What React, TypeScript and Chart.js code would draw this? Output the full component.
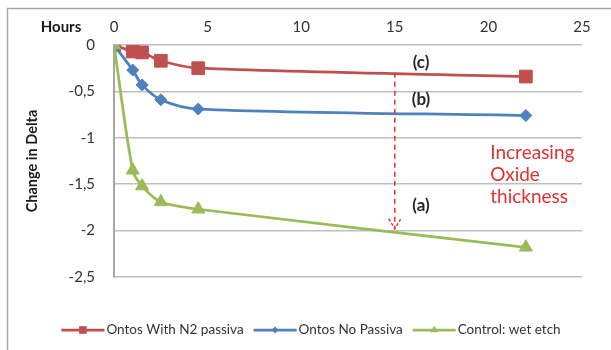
import React, { useEffect, useRef } from 'react';
import { Chart, registerables } from 'chart.js';

Chart.register(...registerables);

// ---- data ----
const hours = [0, 1, 1.5, 2.5, 4.5, 22];
const n2Passiva = [0, -0.07, -0.08, -0.17, -0.25, -0.34];
const noPassiva = [0, -0.27, -0.43, -0.59, -0.69, -0.76];
const wetEtch = [0, -1.35, -1.52, -1.69, -1.77, -2.18];
const seriesNames = ['Ontos With N2 passiva', 'Ontos No Passiva', 'Control: wet etch'];
const xTickValues = [0, 5, 10, 15, 20, 25];
const yTickValues = [0, -0.5, -1, -1.5, -2, -2.5];
const xAxisTitle = 'Hours';
const yAxisTitle = 'Change in Delta';
const curveTags = ['(c)', '(b)', '(a)'];
const curveTagX = [16.4, 16.4, 16.4];
const curveTagY = [-0.19, -0.59, -1.73];
const noteLines = ['Increasing', 'Oxide', 'thickness'];
const noteX = 20.1;
const noteY = [-1.16, -1.4, -1.64];
const arrowX = 15;
const arrowFromY = -0.3;
const arrowToY = -1.98;

const colors = ['#C0504D', '#4F81BD', '#9BBB59'];
const pointStyles = ['rect', 'rectRot', 'triangle'];
const pointRadii = [9, 6, 7.5];
const FONT = 'Lato, "Open Sans", sans-serif';

const fmt = (v: number) => String(v).replace('.', ',');

function drawMarker(ctx: CanvasRenderingContext2D, style: string, x: number, y: number, r: number, color: string) {
  ctx.save();
  ctx.fillStyle = color;
  ctx.beginPath();
  if (style === 'rect') {
    const s = r * Math.SQRT1_2;
    ctx.rect(x - s, y - s, 2 * s, 2 * s);
  } else if (style === 'rectRot') {
    ctx.moveTo(x, y - r);
    ctx.lineTo(x + r, y);
    ctx.lineTo(x, y + r);
    ctx.lineTo(x - r, y);
    ctx.closePath();
  } else {
    const h = r * 1.5;
    const w = r * Math.sqrt(3) / 2;
    ctx.moveTo(x, y - r);
    ctx.lineTo(x + w, y - r + h);
    ctx.lineTo(x - w, y - r + h);
    ctx.closePath();
  }
  ctx.fill();
  ctx.restore();
}

const decorPlugin = {
  id: 'decor',
  beforeDraw(chart: any) {
    const ctx = chart.ctx as CanvasRenderingContext2D;
    ctx.save();
    ctx.fillStyle = '#ffffff';
    ctx.fillRect(0, 0, chart.width, chart.height);
    ctx.strokeStyle = '#a6a6a6';
    ctx.lineWidth = 1.5;
    ctx.beginPath();
    ctx.moveTo(7.5, chart.height);
    ctx.lineTo(7.5, 8.5);
    ctx.lineTo(chart.width, 8.5);
    ctx.stroke();
    ctx.restore();
  },
  afterDraw(chart: any) {
    const ctx = chart.ctx as CanvasRenderingContext2D;
    const xs = chart.scales.x;
    const ys = chart.scales.y;
    ctx.save();
    // x axis title at left of the tick row
    ctx.fillStyle = '#1a1a1a';
    ctx.font = `bold 15px ${FONT}`;
    ctx.textAlign = 'center';
    ctx.textBaseline = 'middle';
    ctx.fillText(xAxisTitle, 61, 27);

    // dashed arrow
    const ax = xs.getPixelForValue(arrowX);
    const ay1 = ys.getPixelForValue(arrowFromY);
    const ay2 = ys.getPixelForValue(arrowToY);
    ctx.strokeStyle = '#e0312f';
    ctx.lineWidth = 1.5;
    ctx.setLineDash([5, 4]);
    ctx.beginPath();
    ctx.moveTo(ax, ay1);
    ctx.lineTo(ax, ay2);
    ctx.stroke();
    ctx.setLineDash([3, 2]);
    ctx.beginPath();
    ctx.moveTo(ax - 6, ay2 - 10);
    ctx.lineTo(ax, ay2);
    ctx.lineTo(ax + 6, ay2 - 10);
    ctx.stroke();
    ctx.setLineDash([]);

    // curve tags
    ctx.fillStyle = '#262626';
    ctx.font = `bold 17px ${FONT}`;
    ctx.textAlign = 'center';
    curveTags.forEach((t, i) => {
      ctx.fillText(t, xs.getPixelForValue(curveTagX[i]), ys.getPixelForValue(curveTagY[i]));
    });

    // note
    ctx.fillStyle = '#e0312f';
    ctx.font = `19px ${FONT}`;
    ctx.textAlign = 'left';
    noteLines.forEach((t, i) => {
      ctx.fillText(t, xs.getPixelForValue(noteX), ys.getPixelForValue(noteY[i]));
    });

    // legend
    ctx.font = `13.5px ${FONT}`;
    const lineLen = 43;
    const gap = 2;
    const spacing = 10;
    const widths = chart.data.datasets.map((d: any) => ctx.measureText(d.label).width);
    const total = widths.reduce((a: number, w: number) => a + lineLen + gap + w, 0) + spacing * (widths.length - 1);
    let lx = 311 - total / 2;
    const ly = 330;
    chart.data.datasets.forEach((d: any, i: number) => {
      ctx.strokeStyle = d.borderColor;
      ctx.lineWidth = 2.75;
      ctx.beginPath();
      ctx.moveTo(lx, ly);
      ctx.lineTo(lx + lineLen, ly);
      ctx.stroke();
      drawMarker(ctx, d.pointStyle, lx + lineLen / 2, ly, d.pointRadius * 0.6, d.borderColor);
      ctx.fillStyle = '#333333';
      ctx.textAlign = 'left';
      ctx.textBaseline = 'middle';
      ctx.fillText(d.label, lx + lineLen + gap, ly);
      lx += lineLen + gap + widths[i] + spacing;
    });
    ctx.restore();
  },
};

export default function App() {
  const ref = useRef<HTMLCanvasElement | null>(null);
  useEffect(() => {
    if (!ref.current) return;
    const series = [n2Passiva, noPassiva, wetEtch];
    const chart = new Chart(ref.current, {
      type: 'line',
      data: {
        datasets: series.map((vals, i) => ({
          label: seriesNames[i],
          data: hours.map((h, j) => ({ x: h, y: vals[j] })),
          borderColor: colors[i],
          backgroundColor: colors[i],
          pointBackgroundColor: colors[i],
          pointBorderColor: colors[i],
          pointStyle: pointStyles[i] as any,
          pointRadius: pointRadii[i],
          pointBorderWidth: 1,
          borderWidth: 2.75,
          tension: 0.3,
          fill: false,
          order: 3 - i,
        })),
      },
      options: {
        animation: false,
        responsive: false,
        devicePixelRatio: 1,
        layout: { padding: { left: 0, top: 0, right: 29, bottom: 73 } },
        plugins: { legend: { display: false }, tooltip: { enabled: false } },
        scales: {
          x: {
            type: 'linear',
            position: 'top',
            min: 0,
            max: 25,
            afterBuildTicks: (s: any) => { s.ticks = xTickValues.map((v) => ({ value: v })); },
            afterFit: (s: any) => { s.height = 45; },
            grid: { display: false, drawTicks: false },
            border: { display: false },
            ticks: { color: '#333333', font: { family: FONT, size: 15 }, padding: 9, maxRotation: 0 },
          },
          y: {
            type: 'linear',
            min: -2.5,
            max: 0,
            afterBuildTicks: (s: any) => { s.ticks = yTickValues.map((v) => ({ value: v })); },
            afterFit: (s: any) => { s.width = 114; },
            grid: { color: '#bfbfbf', lineWidth: 1.5, drawTicks: false },
            border: { display: true, color: '#a6a6a6', width: 2 },
            ticks: {
              color: '#333333',
              font: { family: FONT, size: 15 },
              padding: 19,
              callback: (v: any) => fmt(Number(v)),
            },
            title: {
              display: true,
              text: yAxisTitle,
              color: '#1a1a1a',
              font: { family: FONT, size: 14.5, weight: 'bold' },
              padding: { top: 24, bottom: 0 },
            },
          },
        },
      },
      plugins: [decorPlugin],
    });
    return () => chart.destroy();
  }, []);
  return (
    <div style={{ position: 'absolute', left: 0, top: 0, width: 611, height: 350 }}>
      <canvas ref={ref} width={611} height={350} />
    </div>
  );
}
